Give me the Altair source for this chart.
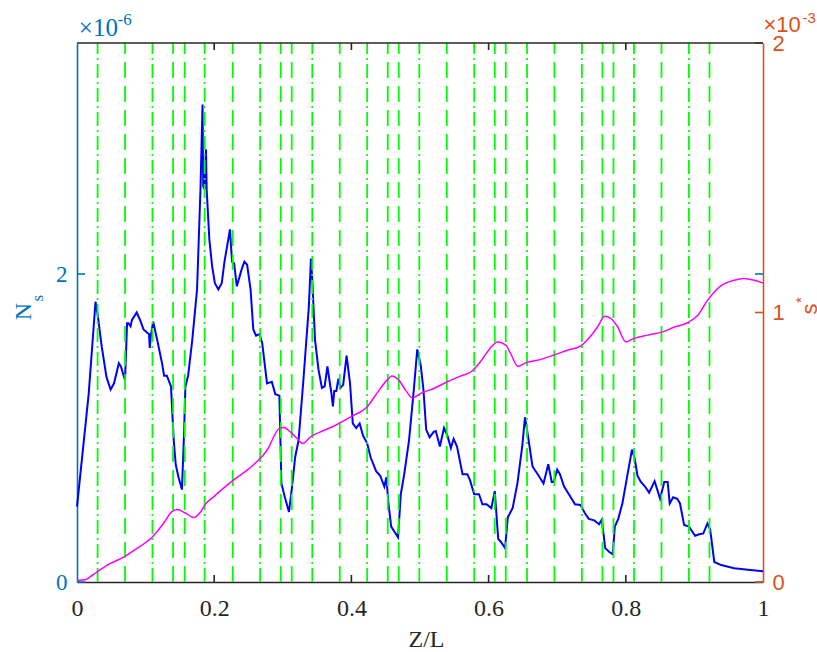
import altair as alt
import pandas as pd

# N_s profile along the channel (left axis, units of 1e-6)
ns_z = [0.000, 0.017, 0.027, 0.030, 0.036, 0.043, 0.049, 0.054, 0.061, 0.064, 0.070, 0.073,
        0.075, 0.078, 0.080, 0.087, 0.092, 0.097, 0.102, 0.105, 0.106, 0.108, 0.111, 0.117,
        0.124, 0.127, 0.131, 0.137, 0.141, 0.144, 0.148, 0.153, 0.156, 0.158, 0.162, 0.168,
        0.175, 0.180, 0.183, 0.184, 0.186, 0.188, 0.189, 0.193, 0.197, 0.201, 0.206, 0.211,
        0.215, 0.223, 0.226, 0.229, 0.233, 0.240, 0.244, 0.248, 0.253, 0.257, 0.261, 0.266,
        0.270, 0.277, 0.284, 0.289, 0.295, 0.298, 0.303, 0.309, 0.313, 0.318, 0.323, 0.330,
        0.338, 0.341, 0.343, 0.347, 0.352, 0.357, 0.361, 0.365, 0.368, 0.371, 0.373, 0.375,
        0.378, 0.381, 0.384, 0.388, 0.393, 0.398, 0.402, 0.407, 0.412, 0.417, 0.423, 0.428,
        0.436, 0.442, 0.448, 0.451, 0.454, 0.458, 0.463, 0.468, 0.472, 0.477, 0.484, 0.491,
        0.496, 0.501, 0.505, 0.509, 0.514, 0.520, 0.523, 0.529, 0.535, 0.540, 0.545, 0.549,
        0.554, 0.562, 0.569, 0.573, 0.579, 0.586, 0.591, 0.597, 0.604, 0.609, 0.614, 0.618,
        0.624, 0.628, 0.635, 0.642, 0.649, 0.653, 0.656, 0.664, 0.673, 0.680, 0.687, 0.692,
        0.695, 0.700, 0.704, 0.710, 0.717, 0.726, 0.734, 0.740, 0.746, 0.754, 0.761, 0.765,
        0.770, 0.776, 0.781, 0.784, 0.789, 0.795, 0.801, 0.809, 0.813, 0.817, 0.822, 0.828,
        0.834, 0.842, 0.850, 0.856, 0.861, 0.864, 0.869, 0.875, 0.879, 0.885, 0.892, 0.901,
        0.907, 0.913, 0.919, 0.923, 0.929, 0.939, 0.958, 0.978, 1.000]
ns_val = [0.49, 1.22, 1.82, 1.74, 1.53, 1.33, 1.25, 1.29, 1.42, 1.40, 1.31, 1.68,
          1.68, 1.66, 1.70, 1.75, 1.70, 1.64, 1.62, 1.61, 1.52, 1.61, 1.69, 1.57,
          1.42, 1.34, 1.34, 1.27, 0.92, 0.76, 0.68, 0.60, 0.96, 1.27, 1.34, 1.57,
          1.90, 2.55, 3.10, 2.57, 2.55, 2.81, 2.55, 2.22, 2.05, 1.94, 1.90, 1.94,
          2.08, 2.29, 2.08, 2.07, 1.92, 2.03, 2.08, 2.06, 1.90, 1.64, 1.60, 1.61,
          1.55, 1.29, 1.30, 1.22, 1.21, 0.64, 0.55, 0.455, 0.60, 0.81, 0.92, 1.31,
          1.79, 2.10, 1.96, 1.57, 1.38, 1.26, 1.27, 1.40, 1.31, 1.22, 1.14, 1.24,
          1.24, 1.32, 1.26, 1.28, 1.47, 1.29, 1.03, 1.00, 1.03, 0.95, 0.90, 0.81,
          0.72, 0.69, 0.62, 0.68, 0.51, 0.36, 0.325, 0.29, 0.57, 0.70, 0.92, 1.25,
          1.51, 1.41, 1.25, 0.99, 0.94, 0.975, 0.98, 0.88, 1.00, 0.95, 0.87, 0.93,
          0.88, 0.70, 0.70, 0.66, 0.57, 0.57, 0.505, 0.505, 0.48, 0.59, 0.28, 0.26,
          0.22, 0.42, 0.48, 0.64, 0.88, 1.07, 0.99, 0.75, 0.69, 0.64, 0.765, 0.65,
          0.65, 0.73, 0.70, 0.62, 0.57, 0.505, 0.50, 0.45, 0.41, 0.40, 0.375, 0.405,
          0.22, 0.195, 0.18, 0.36, 0.41, 0.51, 0.66, 0.86, 0.80, 0.69, 0.65, 0.62,
          0.58, 0.655, 0.54, 0.65, 0.65, 0.51, 0.55, 0.54, 0.51, 0.37, 0.36, 0.30,
          0.31, 0.315, 0.38, 0.34, 0.13, 0.11, 0.09, 0.08, 0.07]

# s* profile (right axis, units of 1e-3)
s_z = [0.000, 0.012, 0.019, 0.029, 0.048, 0.070, 0.087, 0.109, 0.126, 0.138, 0.146, 0.158,
       0.170, 0.180, 0.187, 0.199, 0.228, 0.248, 0.262, 0.277, 0.295, 0.301, 0.311, 0.321,
       0.329, 0.340, 0.355, 0.374, 0.399, 0.423, 0.437, 0.452, 0.459, 0.469, 0.479, 0.489,
       0.501, 0.520, 0.540, 0.559, 0.576, 0.588, 0.600, 0.613, 0.625, 0.632, 0.643, 0.654,
       0.676, 0.695, 0.715, 0.734, 0.746, 0.759, 0.769, 0.778, 0.788, 0.800, 0.812, 0.832,
       0.854, 0.870, 0.890, 0.905, 0.919, 0.939, 0.958, 0.972, 0.987, 1.000]
s_val = [0.006, 0.008, 0.019, 0.037, 0.068, 0.095, 0.124, 0.165, 0.217, 0.260, 0.269, 0.256,
         0.239, 0.260, 0.288, 0.316, 0.378, 0.415, 0.446, 0.489, 0.570, 0.573, 0.557, 0.532,
         0.514, 0.538, 0.557, 0.578, 0.613, 0.650, 0.700, 0.749, 0.764, 0.749, 0.712, 0.683,
         0.700, 0.718, 0.743, 0.764, 0.783, 0.817, 0.860, 0.891, 0.879, 0.848, 0.800, 0.813,
         0.826, 0.842, 0.860, 0.875, 0.904, 0.947, 0.986, 0.978, 0.947, 0.891, 0.904, 0.916,
         0.928, 0.945, 0.962, 0.990, 1.045, 1.100, 1.120, 1.126, 1.120, 1.110]

# vertical marker positions
dashdot_z = [0.030, 0.110, 0.186, 0.267, 0.343, 0.423, 0.499, 0.579, 0.656, 0.736, 0.812, 0.892]
dashed_z = [0.070, 0.140, 0.157, 0.227, 0.297, 0.313, 0.383, 0.453, 0.469, 0.539, 0.609,
            0.625, 0.696, 0.766, 0.782, 0.852, 0.922]

x_ticks = [0, 0.2, 0.4, 0.6, 0.8, 1]
ns_ticks = [0, 2]
s_ticks = [0, 1, 2]

W, H = 686, 539
BLUE_AX = "#0072BD"
ORANGE_AX = "#D95319"
DARK = "#262626"
SERIF = "Liberation Serif"
SANS = "Liberation Sans"

X = alt.X("z:Q", scale=alt.Scale(domain=[0, 1], nice=False, zero=False),
          axis=alt.Axis(values=x_ticks, format="~g", title=None, ticks=False, tickSize=0,
                        grid=False, domainColor=DARK, domainWidth=1.6, labelColor=DARK,
                        labelFont=SERIF, labelFontSize=24, labelPadding=14,
                        labelFlush=False, labelOverlap=False))
YL = alt.Y("n:Q", scale=alt.Scale(domain=[0, 3.5], nice=False, zero=False),
           axis=alt.Axis(orient="left", values=ns_ticks, format="~g", title=None, ticks=False,
                         tickSize=0, grid=False, domainColor=BLUE_AX, domainWidth=1.6,
                         labelColor=BLUE_AX, labelFont=SERIF, labelFontSize=23,
                         labelPadding=10, labelFlush=False, labelOverlap=False))
YR = alt.Y("s:Q", scale=alt.Scale(domain=[0, 2], nice=False, zero=False),
           axis=alt.Axis(orient="right", values=s_ticks, format="~g", title=None, ticks=False,
                         tickSize=0, grid=False, domainColor=ORANGE_AX, domainWidth=1.6,
                         labelColor=ORANGE_AX, labelFont=SANS, labelFontSize=22,
                         labelPadding=9, labelFlush=False, labelOverlap=False))

ns_df = pd.DataFrame({"z": ns_z, "n": ns_val})
s_df = pd.DataFrame({"z": s_z, "s": s_val})

ns_line = alt.Chart(ns_df).mark_line(color="#0000FF", strokeWidth=2).encode(x=X, y=YL)

markers_dd = alt.Chart(pd.DataFrame({"z": dashdot_z})).mark_rule(
    color="#00FF00", strokeWidth=1.8, strokeDash=[14, 4, 2, 4]
).encode(x=X, y=alt.value(H), y2=alt.value(0))
markers_d = alt.Chart(pd.DataFrame({"z": dashed_z})).mark_rule(
    color="#00FF00", strokeWidth=1.8, strokeDash=[16, 8]
).encode(x=X, y=alt.value(H), y2=alt.value(0))

ns_tick_df = pd.DataFrame({"n": ns_ticks})
ns_ticks_l = alt.Chart(ns_tick_df).mark_rule(color=BLUE_AX, strokeWidth=1.6).encode(
    y=YL, x=alt.value(0), x2=alt.value(8))
ns_ticks_r = alt.Chart(ns_tick_df).mark_rule(color=BLUE_AX, strokeWidth=1.6).encode(
    y=YL, x=alt.value(W - 8), x2=alt.value(W))

left = alt.layer(ns_line, markers_dd, markers_d, ns_ticks_l, ns_ticks_r)

s_line = alt.Chart(s_df).mark_line(color="#FF00FF", strokeWidth=1.5,
                                   interpolate="monotone").encode(x=X, y=YR)
s_ticks_r = alt.Chart(pd.DataFrame({"s": s_ticks})).mark_rule(
    color=ORANGE_AX, strokeWidth=1.6).encode(y=YR, x=alt.value(W - 8), x2=alt.value(W))

right = alt.layer(s_line, s_ticks_r)

xt_df = pd.DataFrame({"z": x_ticks[1:-1]})
xt_bottom = alt.Chart(xt_df).mark_rule(color=DARK, strokeWidth=1.6).encode(
    x=X, y=alt.value(H), y2=alt.value(H - 7))
xt_top = alt.Chart(xt_df).mark_rule(color=DARK, strokeWidth=1.6).encode(
    x=X, y=alt.value(0), y2=alt.value(7))
frame_top = alt.Chart(pd.DataFrame({"k": [0]})).mark_rule(color=DARK, strokeWidth=1.6).encode(
    x=alt.value(0), x2=alt.value(W), y=alt.value(0))


def label(txt, px, py, font, size, color, angle=0, align="left"):
    return alt.Chart(pd.DataFrame({"t": [txt]})).mark_text(
        font=font, fontSize=size, color=color, angle=angle, align=align,
        baseline="alphabetic"
    ).encode(text="t:N", x=alt.value(px), y=alt.value(py))


texts = [
    label("Z/L", 349.5, 604, SERIF, 24, DARK, align="center"),
    label("N", -46.3, 268.7, SERIF, 24, BLUE_AX, angle=270, align="center"),
    label("s", -33.7, 255.3, SERIF, 17, BLUE_AX, angle=270, align="center"),
    label("s", 740.4, 266, SANS, 22, ORANGE_AX, angle=270, align="center"),
    label("*", 729, 257, SANS, 15, ORANGE_AX, angle=270, align="center"),
    label("\u00d710", 1.8, -7, SERIF, 25, BLUE_AX),
    label("-6", 40.5, -18, SERIF, 17, BLUE_AX),
    label("\u00d710", 686.5, -11.3, SANS, 22, ORANGE_AX),
    label("-3", 725.5, -19.7, SANS, 15, ORANGE_AX),
]

chart = alt.layer(left, right, xt_bottom, xt_top, frame_top, *texts).resolve_scale(
    y="independent"
).properties(
    width=W, height=H,
    padding={"left": 77, "top": 43, "right": 817 - 77 - W, "bottom": 652 - 43 - H},
    autosize=alt.AutoSizeParams(type="none"),
    background="white",
).configure_view(stroke=None)

chart.save("out.html", embed_options={"renderer": "svg", "actions": False})
